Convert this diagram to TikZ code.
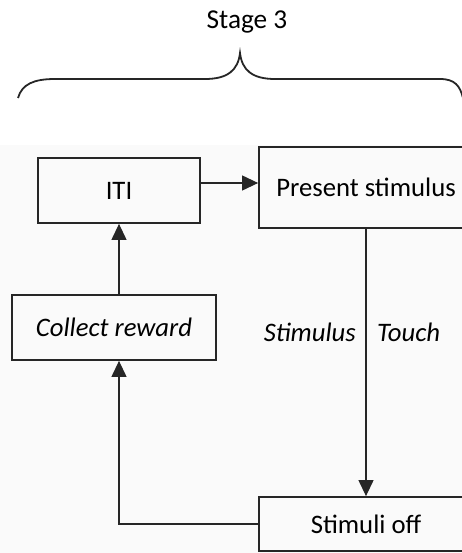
\documentclass[tikz,border=0pt]{standalone}
\usepackage{fontspec}
\setmainfont{Carlito}
\usetikzlibrary{arrows.meta}
\begin{document}
\begin{tikzpicture}[x=1pt,y=-1pt,
  box/.style={draw=black!85,line width=1.8pt,inner sep=0pt,font=\fontsize{26.7}{31}\selectfont},
  conn/.style={draw=black!85,line width=1.2pt,-{Triangle[length=16pt,width=15pt]}},
  lab/.style={font=\fontsize{26.7}{31}\selectfont\itshape,inner sep=0pt}]
\useasboundingbox (0,0) rectangle (462,553);
\fill[black!2] (0,145) rectangle (462,553);
\node[font=\fontsize{27.3}{31}\selectfont] (stage) at (247,22) {Stage 3};
\draw[line width=1.8pt,black!85] (18,98) .. controls (22,84) and (34,79) .. (55,79)
  -- (205,79) .. controls (228,79) and (238,70) .. (240,53)
  .. controls (242,70) and (252,79) .. (275,79)
  -- (440,79) .. controls (455,79) and (460,86) .. (463,98);
\node[box,minimum width=162pt,minimum height=65pt] (iti) at (119,190.5) {ITI};
\node[box,minimum width=214pt,minimum height=81pt] (pres) at (366,187.5) {Present stimulus};
\node[box,minimum width=204pt,minimum height=65pt] (rew) at (114,327.5) {\itshape Collect reward};
\node[box,minimum width=214pt,minimum height=54pt] (off) at (366,524) {Stimuli off};
\node[lab,anchor=east] (stim) at (356,332) {Stimulus};
\node[lab,anchor=west] (touch) at (377,332) {Touch};
\draw[conn] (iti.east |- 0,183) -- (pres.west |- 0,183);
\draw[conn] (iti.south |- rew.north) -- (iti.south);
\draw[conn] (pres.south) -- (off.north);
\draw[conn] (off.west) -| (iti.south |- rew.south);
\end{tikzpicture}
\end{document}
